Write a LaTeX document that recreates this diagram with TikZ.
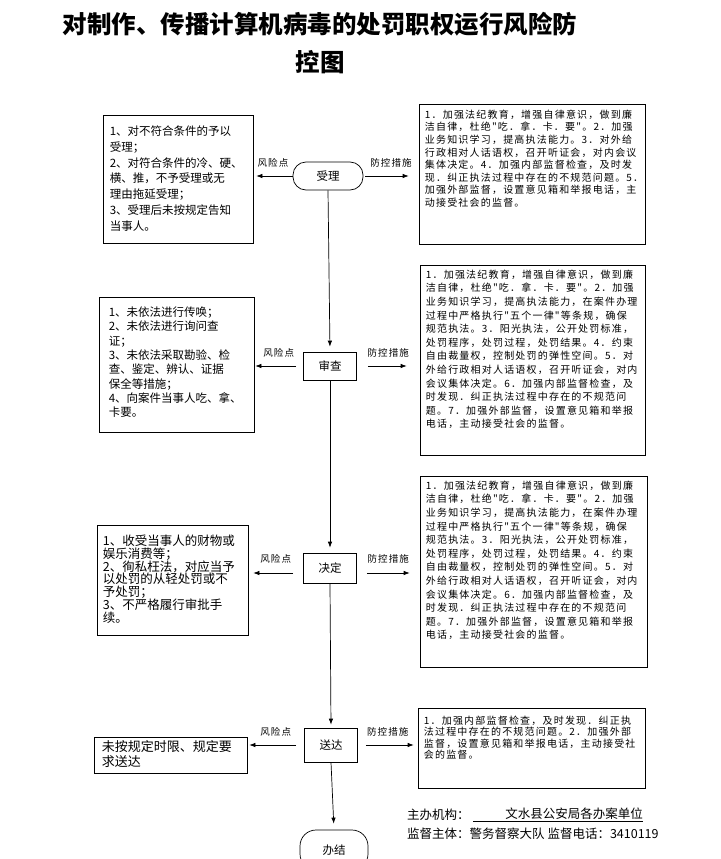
\documentclass[tikz,border=0pt]{standalone}
\usepackage{fontspec}
\setmainfont{Noto Sans CJK SC}
\newfontfamily\cjks{Noto Sans CJK SC}[LetterSpace=12]
\usetikzlibrary{arrows.meta}
\begin{document}
\begin{tikzpicture}[x=1pt,y=-1pt,
  box/.style={draw=black, line width=0.7pt, inner sep=0pt},
  stadium/.style={draw=black, line width=0.7pt, inner sep=0pt, rounded corners=#1},
  ltext/.style={anchor=north west, inner sep=0pt, align=left},
  rtext/.style={anchor=north west, inner sep=0pt, align=left},
  link/.style={line width=0.7pt, -{Latex[length=6pt,width=4.5pt]}},
  lab/.style={font=\cjks\fontsize{9.5}{10}\selectfont, inner sep=0pt},
  cnode/.style={font=\fontsize{11.5}{12}\selectfont}
]
\useasboundingbox (0,0) rectangle (720,859);

% title
\node[font=\fontsize{24.5}{28}\selectfont\bfseries, inner sep=0pt] (title1) at (320,24) {对制作、传播计算机病毒的处罚职权运行风险防};
\node[font=\fontsize{24.5}{28}\selectfont\bfseries, inner sep=0pt] (title2) at (320,62) {控图};

% center flow nodes
\node[stadium=13pt, minimum width=70pt, minimum height=28pt, cnode] (shouli) at (328,176) {受理};
\node[box, minimum width=53pt, minimum height=28pt, cnode] (shencha) at (330,366) {审查};
\node[box, minimum width=53pt, minimum height=30pt, cnode] (jueding) at (330,568) {决定};
\node[box, minimum width=53pt, minimum height=34pt, cnode] (songda) at (331,745) {送达};
\node[stadium=16pt, minimum width=68pt, minimum height=40pt, cnode] (banjie) at (334,850) {办结};

% left boxes
\node[box, minimum width=150pt, minimum height=128pt] (lb1) at (178,179) {};
\node[ltext, font=\fontsize{11.5}{15.8}\selectfont, xshift=7pt, yshift=-11pt] (lb1t) at (lb1.north west)
 {1、对不符合条件的予以\\受理；\\2、对符合条件的冷、硬、\\横、推，不予受理或无\\理由拖延受理；\\3、受理后未按规定告知\\当事人。};

\node[box, minimum width=155pt, minimum height=135pt] (lb2) at (176.5,364.5) {};
\node[ltext, font=\fontsize{11.5}{14.3}\selectfont, xshift=10pt, yshift=-10pt] (lb2t) at (lb2.north west)
 {1、未依法进行传唤；\\2、未依法进行询问查\\证；\\3、未依法采取勘验、检\\查、鉴定、辨认、证据\\保全等措施；\\4、向案件当事人吃、拿、\\卡要。};

\node[box, minimum width=151pt, minimum height=110pt] (lb3) at (172.5,580) {};
\node[ltext, font=\fontsize{12.5}{12.8}\selectfont, xshift=6pt, yshift=-10pt] (lb3t) at (lb3.north west)
 {1、收受当事人的财物或\\娱乐消费等；\\2、徇私枉法，对应当予\\以处罚的从轻处罚或不\\予处罚；\\3、不严格履行审批手\\续。};

\node[box, minimum width=153pt, minimum height=36pt] (lb4) at (170.5,755) {};
\node[ltext, font=\fontsize{13}{15}\selectfont, xshift=8pt, yshift=-4pt] (lb4t) at (lb4.north west)
 {未按规定时限、规定要\\求送达};

% right boxes
\node[box, minimum width=226pt, minimum height=140pt] (rb1) at (532,174) {};
\node[rtext, font=\cjks\fontsize{10}{12.6}\selectfont, xshift=6pt, yshift=-6pt] (rb1t) at (rb1.north west)
 {1．加强法纪教育，增强自律意识，做到廉\\洁自律，杜绝"吃．拿．卡．要"。2．加强\\业务知识学习，提高执法能力。3．对外给\\行政相对人话语权，召开听证会，对内会议\\集体决定。4．加强内部监督检查，及时发\\现．纠正执法过程中存在的不规范问题。5．\\加强外部监督，设置意见箱和举报电话，主\\动接受社会的监督。};

\node[box, minimum width=225pt, minimum height=190pt] (rb2) at (532.5,360) {};
\node[rtext, font=\cjks\fontsize{10}{13.6}\selectfont, xshift=6pt, yshift=-5pt] (rb2t) at (rb2.north west)
 {1．加强法纪教育，增强自律意识，做到廉\\洁自律，杜绝"吃．拿．卡．要"。2．加强\\业务知识学习，提高执法能力，在案件办理\\过程中严格执行"五个一律"等条规，确保\\规范执法。3．阳光执法，公开处罚标准，\\处罚程序，处罚过程，处罚结果。4．约束\\自由裁量权，控制处罚的弹性空间。5．对\\外给行政相对人话语权，召开听证会，对内\\会议集体决定。6．加强内部监督检查，及\\时发现．纠正执法过程中存在的不规范问\\题。7．加强外部监督，设置意见箱和举报\\电话，主动接受社会的监督。};

\node[box, minimum width=227pt, minimum height=191pt] (rb3) at (533.5,571.5) {};
\node[rtext, font=\cjks\fontsize{10}{13.6}\selectfont, xshift=6pt, yshift=-5pt] (rb3t) at (rb3.north west)
 {1．加强法纪教育，增强自律意识，做到廉\\洁自律，杜绝"吃．拿．卡．要"。2．加强\\业务知识学习，提高执法能力，在案件办理\\过程中严格执行"五个一律"等条规，确保\\规范执法。3．阳光执法，公开处罚标准，\\处罚程序，处罚过程，处罚结果。4．约束\\自由裁量权，控制处罚的弹性空间。5．对\\外给行政相对人话语权，召开听证会，对内\\会议集体决定。6．加强内部监督检查，及\\时发现．纠正执法过程中存在的不规范问\\题。7．加强外部监督，设置意见箱和举报\\电话，主动接受社会的监督。};

\node[box, minimum width=227pt, minimum height=80pt] (rb4) at (531.5,748) {};
\node[rtext, font=\cjks\fontsize{10}{11.4}\selectfont, xshift=6pt, yshift=-8pt] (rb4t) at (rb4.north west)
 {1．加强内部监督检查，及时发现．纠正执\\法过程中存在的不规范问题。2．加强外部\\监督，设置意见箱和举报电话，主动接受社\\会的监督。};

% vertical flow
\draw[link, shorten >=5pt] (shouli.south) -- (shencha.north);
\draw[link, shorten >=5pt] (shencha.south) -- (jueding.north);
\draw[link, shorten >=3pt] (jueding.south) -- (songda.north);
\draw[link, shorten >=6pt] (songda.south) -- (banjie.north);

% risk arrows (left)
\draw[link, shorten >=3pt] (shouli.west) -- (shouli.west -| lb1.east) node[lab, midway, above=8pt] {风险点};
\draw[link, shorten <=7pt, shorten >=1pt] (shencha.west) -- (shencha.west -| lb2.east) node[lab, midway, above=8pt] {风险点};
\draw[link, shorten <=10pt, shorten >=5pt] ([yshift=-5pt]jueding.west) -- ([yshift=-5pt]jueding.west -| lb3.east) node[lab, midway, above=9pt] {风险点};
\draw[link, shorten <=8pt, shorten >=2pt] (songda.west) -- (songda.west -| lb4.east) node[lab, midway, above=8pt] {风险点};

% control arrows (right)
\draw[link, shorten <=2pt, shorten >=10pt] (shouli.east) -- (shouli.east -| rb1.west) node[lab, midway, above=8pt] {防控措施};
\draw[link, shorten <=11pt, shorten >=13pt] (shencha.east) -- (shencha.east -| rb2.west) node[lab, midway, above=8pt] {防控措施};
\draw[link, shorten <=10pt, shorten >=10pt] ([yshift=-5pt]jueding.east) -- ([yshift=-5pt]jueding.east -| rb3.west) node[lab, midway, above=9pt] {防控措施};
\draw[link, shorten <=8pt, shorten >=4pt] (songda.east) -- (songda.east -| rb4.west) node[lab, midway, above=8pt] {防控措施};

% footer
\node[anchor=west, inner sep=0pt, font=\fontsize{12.5}{14}\selectfont] (org) at (407,815) {主办机构：};
\node[anchor=east, inner sep=0pt, font=\fontsize{12.5}{14}\selectfont] (orgname) at (643,815) {\underline{\hspace{32pt}文水县公安局各办案单位}};
\node[anchor=west, inner sep=0pt, font=\fontsize{12.5}{14}\selectfont] (sup) at (407,834) {监督主体：警务督察大队\ 监督电话：3410119};
\end{tikzpicture}
\end{document}
